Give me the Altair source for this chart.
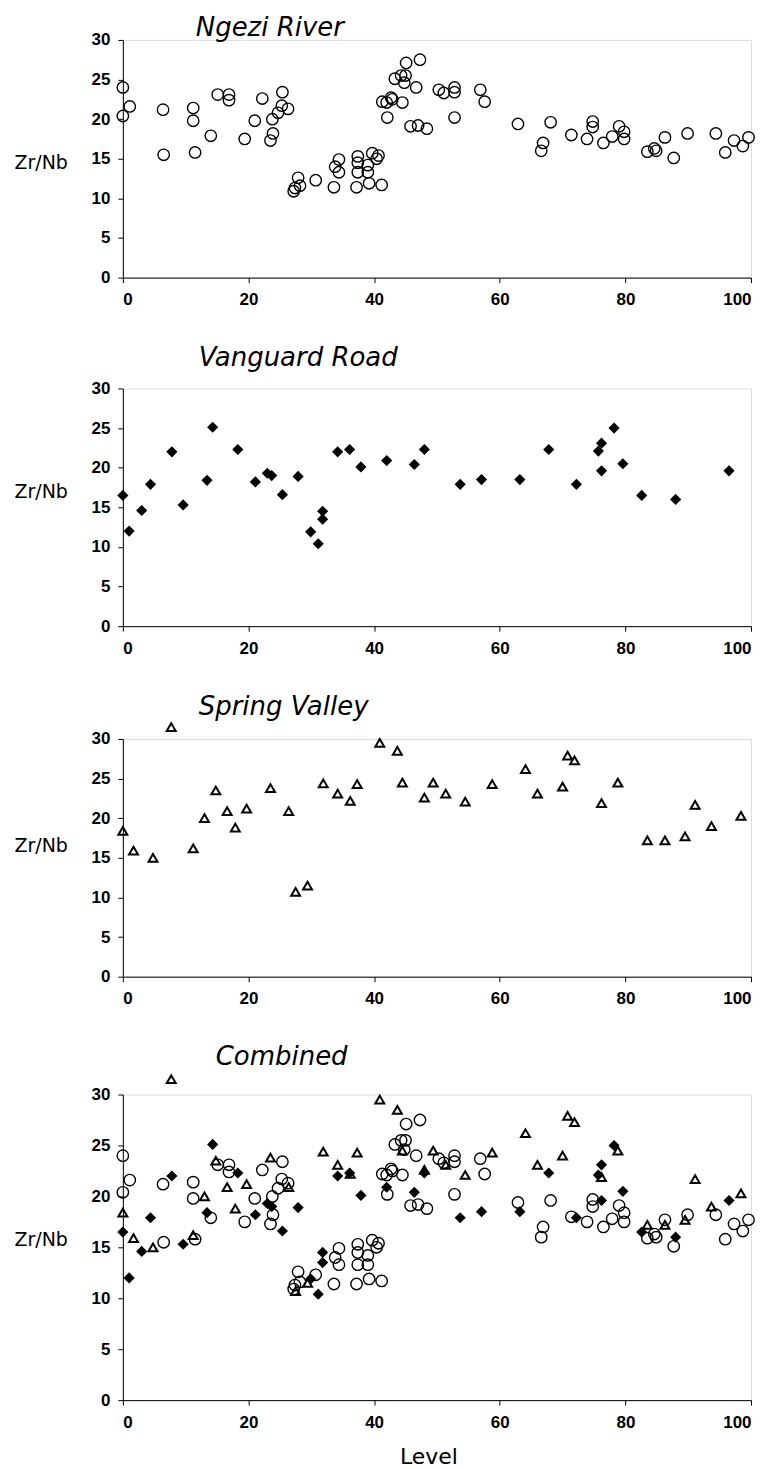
import altair as alt
import pandas as pd

# ---------------- data ----------------
ngezi_level = [0, 0, 1.1, 6.4, 6.5, 11.2, 11.2, 11.5, 14.0, 15.1, 16.9, 16.9, 19.4, 21.0, 22.2,
               23.5, 23.9, 23.8, 24.7, 25.4, 25.3, 26.3, 27.9, 27.2, 27.4, 28.2, 30.7, 33.6, 33.8,
               34.4, 34.4, 37.2, 37.4, 37.4, 37.4, 39.0, 39.0, 39.2, 39.7, 40.4, 40.7, 41.2, 41.3,
               42.0, 42.1, 42.7, 42.9, 43.3, 44.3, 44.8, 45.0, 45.1, 44.5, 46.7, 45.8, 47.0, 47.3,
               48.4, 50.3, 51.1, 52.8, 52.8, 52.8, 56.9, 57.6, 62.9, 66.9, 66.6, 68.1, 71.4, 73.9,
               74.8, 74.8, 76.5, 77.9, 79.0, 79.8, 79.8, 83.5, 84.6, 84.9, 86.3, 87.7, 89.9, 94.4,
               95.9, 97.3, 98.7, 99.6]
ngezi_zrnb = [24.0, 20.4, 21.6, 21.2, 15.5, 21.4, 19.8, 15.8, 17.9, 23.1, 23.1, 22.4, 17.5, 19.8, 22.6,
              17.3, 18.2, 20.0, 20.8, 23.4, 21.7, 21.3, 12.6, 10.9, 11.3, 11.6, 12.3, 11.4, 14.0,
              14.9, 13.3, 11.4, 15.3, 14.5, 13.3, 14.2, 13.3, 11.9, 15.7, 15.0, 15.4, 11.7, 22.2,
              22.1, 20.2, 22.7, 22.5, 25.1, 25.5, 24.6, 25.5, 27.1, 22.1, 24.0, 19.1, 19.2, 27.5,
              18.8, 23.7, 23.3, 24.0, 23.4, 20.2, 23.7, 22.2, 19.4, 17.0, 16.0, 19.6, 18.0, 17.5,
              19.7, 19.0, 17.0, 17.8, 19.1, 18.4, 17.5, 15.9, 16.3, 16.0, 17.7, 15.1, 18.2, 18.2,
              15.8, 17.3, 16.6, 17.7]

vanguard_level = [0, 1.0, 3.0, 4.4, 7.8, 9.6, 13.4, 14.3, 18.3, 21.1, 23.0, 23.7, 25.4, 27.9, 29.9,
                  31.1, 31.8, 31.8, 34.2, 36.1, 37.9, 42.0, 46.4, 48.0, 53.7, 57.1, 63.2, 67.8, 72.2,
                  75.7, 76.2, 76.2, 78.2, 79.6, 82.6, 88.0, 96.5]
vanguard_zrnb = [16.5, 12.0, 14.6, 17.9, 22.0, 15.3, 18.4, 25.1, 22.3, 18.2, 19.3, 19.0, 16.6, 18.9, 11.9,
                 10.4, 14.5, 13.5, 22.0, 22.3, 20.1, 20.9, 20.4, 22.3, 17.9, 18.5, 18.5, 22.3, 17.9,
                 22.1, 23.1, 19.6, 25.0, 20.5, 16.5, 16.0, 19.6]

spring_level = [0, 1.7, 4.8, 7.7, 11.2, 13.0, 14.8, 16.6, 17.9, 19.7, 23.5, 26.4, 27.5, 29.4, 31.9,
                34.2, 36.2, 37.3, 40.9, 43.7, 44.5, 48.0, 49.4, 51.4, 54.5, 58.8, 64.1, 66.0, 70.0,
                70.8, 71.9, 76.2, 78.8, 83.5, 86.3, 89.5, 91.1, 93.7, 98.4]
spring_zrnb = [18.4, 15.9, 15.0, 31.5, 16.2, 20.0, 23.5, 20.9, 18.8, 21.2, 23.8, 20.9, 10.7, 11.5, 24.4,
               23.1, 22.2, 24.3, 29.5, 28.5, 24.5, 22.6, 24.5, 23.1, 22.1, 24.3, 26.2, 23.1, 24.0,
               27.9, 27.3, 21.9, 24.5, 17.2, 17.2, 17.7, 21.7, 19.0, 20.3]

x_ticks = [0, 20, 40, 60, 80, 100]
y_ticks = [0, 5, 10, 15, 20, 25, 30]
panel_titles = ["Ngezi River", "Vanguard Road", "Spring Valley", "Combined"]

# ---------------- build ----------------
ngezi = pd.DataFrame({"level": ngezi_level, "zrnb": ngezi_zrnb})
vanguard = pd.DataFrame({"level": vanguard_level, "zrnb": vanguard_zrnb})
spring = pd.DataFrame({"level": spring_level, "zrnb": spring_zrnb})

FONT = "Liberation Sans"
TFONT = "DejaVu Sans"


def layer(df, kind):
    if kind == "circle":
        return alt.Chart(df).mark_point(shape="circle", filled=False, color="black",
                                        size=130, strokeWidth=1.4, opacity=1)
    if kind == "diamond":
        return alt.Chart(df).mark_point(shape="diamond", filled=True, color="black",
                                        size=125, opacity=1)
    return alt.Chart(df).mark_point(shape="triangle-up", filled=False, color="black",
                                    size=80, strokeWidth=2, opacity=1)


def encodings(xtitle, ty):
    x = alt.X("level:Q",
              scale=alt.Scale(domain=[0, 100], nice=False, zero=False),
              axis=alt.Axis(values=x_ticks, title=xtitle, grid=False, tickSize=5,
                            labelPadding=9, labelFont=FONT, labelFontSize=17,
                            labelFontWeight="bold", labelColor="black",
                            domainColor="black", tickColor="black",
                            titleFont=TFONT, titleFontSize=22, titleFontWeight="normal",
                            titleColor="black", titlePadding=16, titleX=306))
    y = alt.Y("zrnb:Q",
              scale=alt.Scale(domain=[0, 30], nice=False),
              axis=alt.Axis(values=y_ticks, title="Zr/Nb", grid=False, tickSize=5,
                            labelPadding=8, labelFont=FONT, labelFontSize=17,
                            labelFontWeight="bold", labelColor="black",
                            domainColor="black", tickColor="black",
                            titleFont=TFONT, titleFontSize=19, titleFontWeight="normal",
                            titleColor="black", titleAngle=0, titleAlign="left",
                            titleBaseline="middle", titleX=-109, titleY=ty))
    return x, y


def panel(parts, title, height, ty, offset, dx, xtitle=None):
    x, y = encodings(xtitle, ty)
    layers = [layer(df, kind).encode(x=x, y=y) for df, kind in parts]
    return alt.layer(*layers).properties(
        width=629, height=height,
        title=alt.TitleParams(title, anchor="start", frame="group", dx=dx, font=TFONT,
                              fontSize=26, fontStyle="italic", fontWeight="normal",
                              color="black", offset=offset))


p1 = panel([(ngezi, "circle")], panel_titles[0], 238, 123, -10, 73)
p2 = panel([(vanguard, "diamond")], panel_titles[1], 238, 103, 8, 76)
p3 = panel([(spring, "triangle")], panel_titles[2], 238, 107, -1, 76)
p4 = panel([(ngezi, "circle"), (vanguard, "diamond"), (spring, "triangle")],
           panel_titles[3], 306, 145, 1, 93, xtitle="Level")

chart = alt.vconcat(p1, p2, p3, p4, spacing=36).configure_view(stroke=None).configure(
    background="white")

chart.save("out.html", embed_options={"renderer": "svg", "actions": False})
